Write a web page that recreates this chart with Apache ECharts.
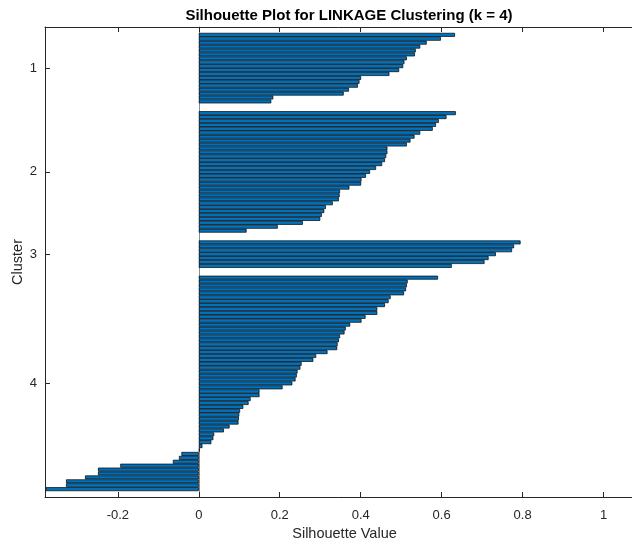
<!DOCTYPE html>
<html>
<head>
<meta charset="utf-8">
<title>Silhouette Plot</title>
<script src="https://cdn.jsdelivr.net/npm/echarts@6/dist/echarts.min.js"></script>
<style>
  html, body { margin: 0; padding: 0; background: #ffffff; }
  #chart { width: 632px; height: 543px; }
</style>
</head>
<body>
<div id="chart"></div>
<script>
// Cluster labels shown on the vertical axis
const clusterNames = ['1', '2', '3', '4'];

// Silhouette values per cluster, sorted from largest to smallest
const cluster1 = [0.633, 0.598, 0.563, 0.547, 0.536, 0.534, 0.514, 0.508, 0.505, 0.495,
                  0.471, 0.401, 0.397, 0.393, 0.371, 0.358, 0.184, 0.179];
const cluster2 = [0.635, 0.612, 0.593, 0.586, 0.578, 0.547, 0.533, 0.523, 0.514, 0.466,
                  0.466, 0.463, 0.460, 0.453, 0.438, 0.423, 0.413, 0.402, 0.401, 0.372,
                  0.349, 0.348, 0.346, 0.331, 0.314, 0.310, 0.304, 0.300, 0.257, 0.195,
                  0.118];
const cluster3 = [0.795, 0.779, 0.774, 0.734, 0.716, 0.706, 0.625];
const cluster4 = [0.591, 0.516, 0.514, 0.512, 0.507, 0.474, 0.469, 0.460, 0.441, 0.441,
                  0.412, 0.402, 0.374, 0.363, 0.360, 0.349, 0.346, 0.343, 0.342, 0.318,
                  0.290, 0.283, 0.254, 0.251, 0.244, 0.242, 0.239, 0.231, 0.207, 0.150,
                  0.150, 0.128, 0.123, 0.110, 0.102, 0.100, 0.099, 0.098, 0.076, 0.062,
                  0.038, 0.036, 0.031, 0.009, 0.002, -0.043, -0.049, -0.064, -0.194, -0.249,
                  -0.249, -0.281, -0.328, -0.328, -0.378];

// Horizontal axis tick labels
const xTicks = [-0.2, 0, 0.2, 0.4, 0.6, 0.8, 1];

const clusters = [cluster1, cluster2, cluster3, cluster4];

// Stack the clusters into one column of rows, with empty rows between groups
const gapRows = 2;
const rows = [];
const centers = [];
for (let g = 0; g < gapRows; g++) rows.push('-');
clusters.forEach(function (vals) {
  const first = rows.length + 1;          // 1-based row number
  vals.forEach(function (v) { rows.push(v); });
  const last = rows.length;
  centers.push((first + last) / 2);
  for (let g = 0; g < gapRows; g++) rows.push('-');
});
const rowIds = rows.map(function (_, i) { return String(i + 1); });

const ink = '#262626';
const font = 'Liberation Sans, Arial, Helvetica, sans-serif';

const chart = echarts.init(document.getElementById('chart'), null, { renderer: 'canvas' });

chart.setOption({
  animation: false,
  backgroundColor: '#ffffff',
  title: {
    text: 'Silhouette Plot for LINKAGE Clustering (k = 4)',
    left: 344,
    top: 3,
    textAlign: 'center',
    textStyle: { fontFamily: font, fontSize: 15, fontWeight: 'bold', color: '#000000' }
  },
  grid: {
    left: 45, right: -12, top: 27, bottom: 46,
    containLabel: false,
    outerBoundsMode: 'none'
  },
  xAxis: [
    {
      type: 'value',
      position: 'bottom',
      min: -0.38,
      max: 1.1,
      name: 'Silhouette Value',
      nameLocation: 'middle',
      nameGap: 28,
      nameTextStyle: { fontFamily: font, fontSize: 14.5, color: ink },
      axisLine: { show: true, onZero: false, lineStyle: { color: ink, width: 1 } },
      axisTick: { show: true, inside: true, length: 5, customValues: xTicks, lineStyle: { color: ink } },
      axisLabel: { show: true, customValues: xTicks, margin: 12, fontFamily: font, fontSize: 13, color: ink },
      splitLine: { show: false }
    },
    {
      type: 'value',
      position: 'top',
      min: -0.38,
      max: 1.1,
      axisLine: { show: true, onZero: false, lineStyle: { color: ink, width: 1 } },
      axisTick: { show: true, inside: true, length: 5, customValues: xTicks, lineStyle: { color: ink } },
      axisLabel: { show: false },
      splitLine: { show: false }
    }
  ],
  yAxis: [
    {
      // rows carrying the bars; its line is the zero baseline
      type: 'category',
      data: rowIds,
      inverse: true,
      boundaryGap: false,
      position: 'left',
      axisLine: { show: true, onZero: true, onZeroAxisIndex: 0, lineStyle: { color: '#8c8c8c', width: 1 } },
      axisTick: { show: false },
      axisLabel: { show: false },
      splitLine: { show: false }
    },
    {
      // cluster labels centred on each group of rows
      type: 'value',
      min: 1,
      max: rows.length,
      inverse: true,
      position: 'left',
      name: 'Cluster',
      nameLocation: 'middle',
      nameGap: 20,
      nameMoveOverlap: false,
      nameRotate: 90,
      nameTextStyle: { fontFamily: font, fontSize: 14.5, color: ink },
      axisLine: { show: true, onZero: false, lineStyle: { color: ink, width: 1 } },
      axisTick: { show: true, inside: true, length: 5, customValues: centers, lineStyle: { color: ink } },
      axisLabel: {
        show: true,
        customValues: centers,
        margin: 8,
        fontFamily: font,
        fontSize: 13,
        color: ink,
        formatter: function (v) {
          const idx = centers.indexOf(v);
          return idx >= 0 ? clusterNames[idx] : '';
        }
      },
      splitLine: { show: false }
    }
  ],
  series: [
    {
      type: 'bar',
      xAxisIndex: 0,
      yAxisIndex: 0,
      data: rows,
      barWidth: '100%',
      barCategoryGap: '0%',
      itemStyle: { color: '#0072BD', borderColor: '#000000', borderWidth: 0.7 },
      emphasis: { disabled: true }
    }
  ]
});
</script>
</body>
</html>
